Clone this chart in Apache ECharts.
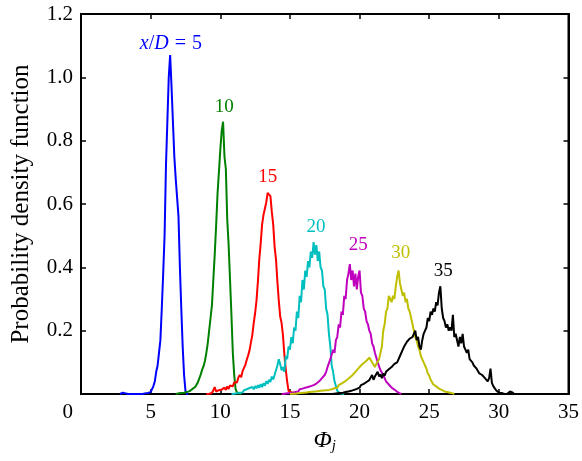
<!DOCTYPE html>
<html><head><meta charset="utf-8">
<script src="https://cdn.jsdelivr.net/npm/echarts@6/dist/echarts.min.js"></script>
<style>html,body{margin:0;padding:0;background:#fff}#c{width:582px;height:461px}</style>
</head><body><div id="c"></div>
<script>
// Each series: x of first point, step 0.1, then PDF values
var step = 0.1;
var xd5Start = 2.8;
var xd5 = [0,0,0.004,0.007,0.002,0.005,0,0,0,0,0,0,0,0,0,0,0,0,0.002,0,0.003,0.001,0.006,0.012,0.025,0.04,0.07,0.09,0.13,0.17,0.27,0.38,0.5,0.72,0.86,1.0,1.07,0.97,0.86,0.75,0.68,0.62,0.56,0.4,0.27,0.15,0.06,0.01,0,0];
var xd10Start = 6.8;
var xd10 = [0,0,0.002,0,0.003,0.001,0.004,0.002,0.006,0.004,0.009,0.011,0.016,0.018,0.022,0.03,0.038,0.05,0.062,0.077,0.088,0.105,0.13,0.16,0.2,0.24,0.28,0.36,0.44,0.53,0.63,0.7,0.77,0.83,0.86,0.75,0.71,0.55,0.47,0.36,0.25,0.13,0.06,0.015,0.005,0.003,0.001,0];
var xd15Start = 9.0;
var xd15 = [0,0.003,0.001,0.006,0.003,0.012,0.022,0.008,0.005,0.012,0.007,0.014,0.009,0.02,0.013,0.024,0.016,0.027,0.03,0.024,0.037,0.042,0.036,0.052,0.06,0.053,0.072,0.074,0.092,0.108,0.122,0.138,0.163,0.186,0.224,0.255,0.295,0.355,0.425,0.475,0.535,0.565,0.585,0.605,0.635,0.64,0.625,0.575,0.535,0.465,0.425,0.355,0.295,0.245,0.225,0.185,0.125,0.078,0.04,0.01,0.004,0.006,0.002,0.003,0];
var xd20Start = 10.8;
var xd20 = [0,0.003,0.001,0.005,0.002,0.007,0.004,0.009,0.005,0.012,0.008,0.015,0.01,0.019,0.013,0.022,0.015,0.025,0.018,0.028,0.02,0.031,0.022,0.034,0.026,0.04,0.032,0.045,0.038,0.055,0.046,0.06,0.058,0.09,0.11,0.095,0.075,0.085,0.07,0.12,0.11,0.15,0.14,0.18,0.16,0.21,0.2,0.26,0.24,0.31,0.29,0.36,0.33,0.39,0.37,0.42,0.4,0.45,0.43,0.48,0.44,0.47,0.42,0.45,0.4,0.39,0.34,0.33,0.27,0.25,0.19,0.15,0.09,0.07,0.04,0.025,0.01,0.006,0.002,0.005,0.001,0];
var xd25Start = 14.4;
var xd25 = [0,0.003,0.001,0.005,0.002,0.006,0.003,0.008,0.004,0.01,0.006,0.012,0.008,0.015,0.01,0.017,0.012,0.02,0.015,0.022,0.018,0.025,0.02,0.028,0.024,0.033,0.028,0.04,0.035,0.05,0.045,0.06,0.07,0.085,0.08,0.11,0.105,0.14,0.13,0.17,0.18,0.22,0.21,0.26,0.25,0.31,0.3,0.36,0.38,0.41,0.36,0.39,0.34,0.38,0.33,0.37,0.39,0.32,0.31,0.27,0.26,0.23,0.22,0.2,0.19,0.16,0.15,0.13,0.125,0.1,0.095,0.075,0.07,0.06,0.055,0.04,0.04,0.03,0.028,0.02,0.022,0.014,0.012,0.007,0.006,0.002,0];
var xd30Start = 15.0;
var xd30 = [0,0.002,0.001,0.003,0.001,0.004,0.002,0.005,0.003,0.006,0.004,0.007,0.005,0.008,0.006,0.009,0.007,0.01,0.008,0.011,0.009,0.012,0.01,0.013,0.011,0.014,0.012,0.016,0.013,0.018,0.015,0.02,0.018,0.024,0.02,0.028,0.025,0.033,0.03,0.038,0.035,0.045,0.042,0.052,0.05,0.06,0.058,0.07,0.068,0.08,0.078,0.09,0.085,0.098,0.095,0.105,0.1,0.115,0.11,0.1,0.095,0.085,0.095,0.09,0.11,0.13,0.15,0.2,0.22,0.26,0.27,0.31,0.3,0.29,0.31,0.3,0.34,0.37,0.39,0.35,0.33,0.31,0.32,0.29,0.3,0.27,0.26,0.24,0.22,0.2,0.18,0.17,0.15,0.14,0.12,0.11,0.1,0.09,0.08,0.065,0.058,0.045,0.04,0.03,0.032,0.024,0.02,0.017,0.018,0.013,0.012,0.008,0.01,0.006,0.007,0.004,0.003,0.002,0];
var xd35Start = 18.0;
var xd35 = [0,0.002,0.001,0.003,0.002,0.005,0.003,0.006,0.004,0.008,0.006,0.01,0.008,0.013,0.01,0.015,0.013,0.018,0.016,0.022,0.02,0.028,0.024,0.032,0.028,0.038,0.035,0.044,0.04,0.06,0.045,0.055,0.05,0.07,0.055,0.062,0.05,0.065,0.058,0.07,0.065,0.078,0.072,0.085,0.08,0.095,0.09,0.1,0.105,0.12,0.125,0.14,0.15,0.15,0.165,0.16,0.175,0.17,0.18,0.19,0.2,0.17,0.18,0.15,0.14,0.17,0.19,0.2,0.21,0.24,0.23,0.26,0.25,0.27,0.26,0.29,0.28,0.32,0.34,0.27,0.24,0.23,0.21,0.22,0.2,0.21,0.2,0.25,0.18,0.19,0.17,0.15,0.18,0.16,0.19,0.15,0.14,0.13,0.14,0.11,0.11,0.1,0.09,0.095,0.08,0.075,0.065,0.07,0.06,0.055,0.05,0.045,0.04,0.05,0.08,0.035,0.025,0.02,0.012,0.008,0.004,0.002,0.003,0.001,0,0.002,0.001,0.004,0.008,0.01,0.004,0];

var seriesNames = ['5','10','15','20','25','30','35'];
var seriesColors = ['#0000ff','#008000','#ff0000','#00bfbf','#bf00bf','#bfbf00','#000000'];
var seriesStarts = [xd5Start,xd10Start,xd15Start,xd20Start,xd25Start,xd30Start,xd35Start];
var seriesValues = [xd5,xd10,xd15,xd20,xd25,xd30,xd35];
// curve labels: text and anchor [x, y] in data units
var labelTexts = ['{i|x}{n|/}{i|D}{e|=}{n|5}','10','15','20','25','30','35'];
var labelPos = [[6.45,1.105],[10.28,0.905],[13.4,0.685],[16.87,0.527],[19.9,0.47],[22.96,0.445],[26.0,0.388]];

var xTicks = [0,5,10,15,20,25,30,35];
var yTicks = [0,0.2,0.4,0.6,0.8,1.0,1.2];

var FONT = '"Liberation Serif", "DejaVu Serif", serif';

var series = seriesValues.map(function(vals, k){
  var data = vals.map(function(v,i){ return [+(seriesStarts[k] + i*step).toFixed(2), v]; });
  return {
    name: seriesNames[k], type: 'line', data: data, showSymbol: false, symbol: 'none',
    lineStyle: {color: seriesColors[k], width: 2}, itemStyle:{color: seriesColors[k]},
    animation: false, z: 2 + k,
    markPoint: {
      symbol: 'circle', symbolSize: 0, animation: false, silent: true,
      data: [{coord: labelPos[k], value: 0}],
      label: {
        show: true, position: 'inside', formatter: labelTexts[k],
        color: seriesColors[k], fontFamily: FONT, fontSize: 19,
        rich: {
          i: {fontStyle: 'italic', fontFamily: FONT, fontSize: 20, color: seriesColors[k]},
          n: {fontFamily: FONT, fontSize: 20, color: seriesColors[k]},
          e: {fontFamily: FONT, fontSize: 20, color: seriesColors[k], padding: [0,6,0,6]}
        }
      }
    }
  };
});
// helper series binding the mirror axes (top / right) so their ticks are drawn
series.push({type: 'line', xAxisIndex: 1, yAxisIndex: 1, data: [], silent: true});

var chart = echarts.init(document.getElementById('c'), null, {renderer: 'canvas'});
var tick = {show: true, inside: true, length: 5, lineStyle: {color:'#000', width: 1.5}};
chart.setOption({
  animation: false,
  backgroundColor: '#fff',
  grid: {left: 81, right: 7, top: 14, bottom: 67, containLabel: false,
    show: true, borderColor: '#000', borderWidth: 2, backgroundColor: 'transparent'},
  xAxis: [{
    type: 'value', min: xTicks[0], max: xTicks[xTicks.length-1], interval: 5,
    axisLine: {show: true, onZero: false, lineStyle: {color: '#000', width: 2}}, axisTick: tick,
    splitLine: {show: false},
    axisLabel: {color: '#000', fontFamily: FONT, fontSize: 21, margin: 8, alignMinLabel: 'right',
      formatter: function(v){ return v === 0 ? '{z|0}' : String(v); },
      rich: {z: {fontFamily: FONT, fontSize: 21, color: '#000', padding: [0,8,0,0]}}},
    name: '{a|Φ}{b|j}', nameLocation: 'middle', nameGap: 33,
    nameTextStyle: {
      rich: {
        a: {fontFamily: FONT, fontStyle: 'italic', fontSize: 24, color: '#000'},
        b: {fontFamily: FONT, fontStyle: 'italic', fontSize: 15, color: '#000', padding: [12,0,0,0]}
      }
    }
  },{
    type: 'value', position: 'top', min: xTicks[0], max: xTicks[xTicks.length-1], interval: 5,
    axisLine: {show: true, onZero: false, lineStyle: {color: '#000', width: 2}}, axisTick: tick,
    axisLabel: {show: false}, splitLine: {show: false}
  }],
  yAxis: [{
    type: 'value', min: yTicks[0], max: yTicks[yTicks.length-1], interval: 0.2,
    axisLine: {show: true, onZero: false, lineStyle: {color: '#000', width: 2}}, axisTick: tick,
    splitLine: {show: false},
    axisLabel: {color: '#000', fontFamily: FONT, fontSize: 21, margin: 8, showMinLabel: false,
      formatter: function(v){ return v === 0 ? '' : v.toFixed(1); }},
    name: 'Probability density function', nameLocation: 'middle', nameGap: 47,
    nameTextStyle: {fontFamily: FONT, fontSize: 25, color: '#000'}
  },{
    type: 'value', position: 'right', min: yTicks[0], max: yTicks[yTicks.length-1], interval: 0.2,
    axisLine: {show: true, onZero: false, lineStyle: {color: '#000', width: 2}}, axisTick: tick,
    axisLabel: {show: false}, splitLine: {show: false}
  }],
  series: series
});
</script></body></html>
